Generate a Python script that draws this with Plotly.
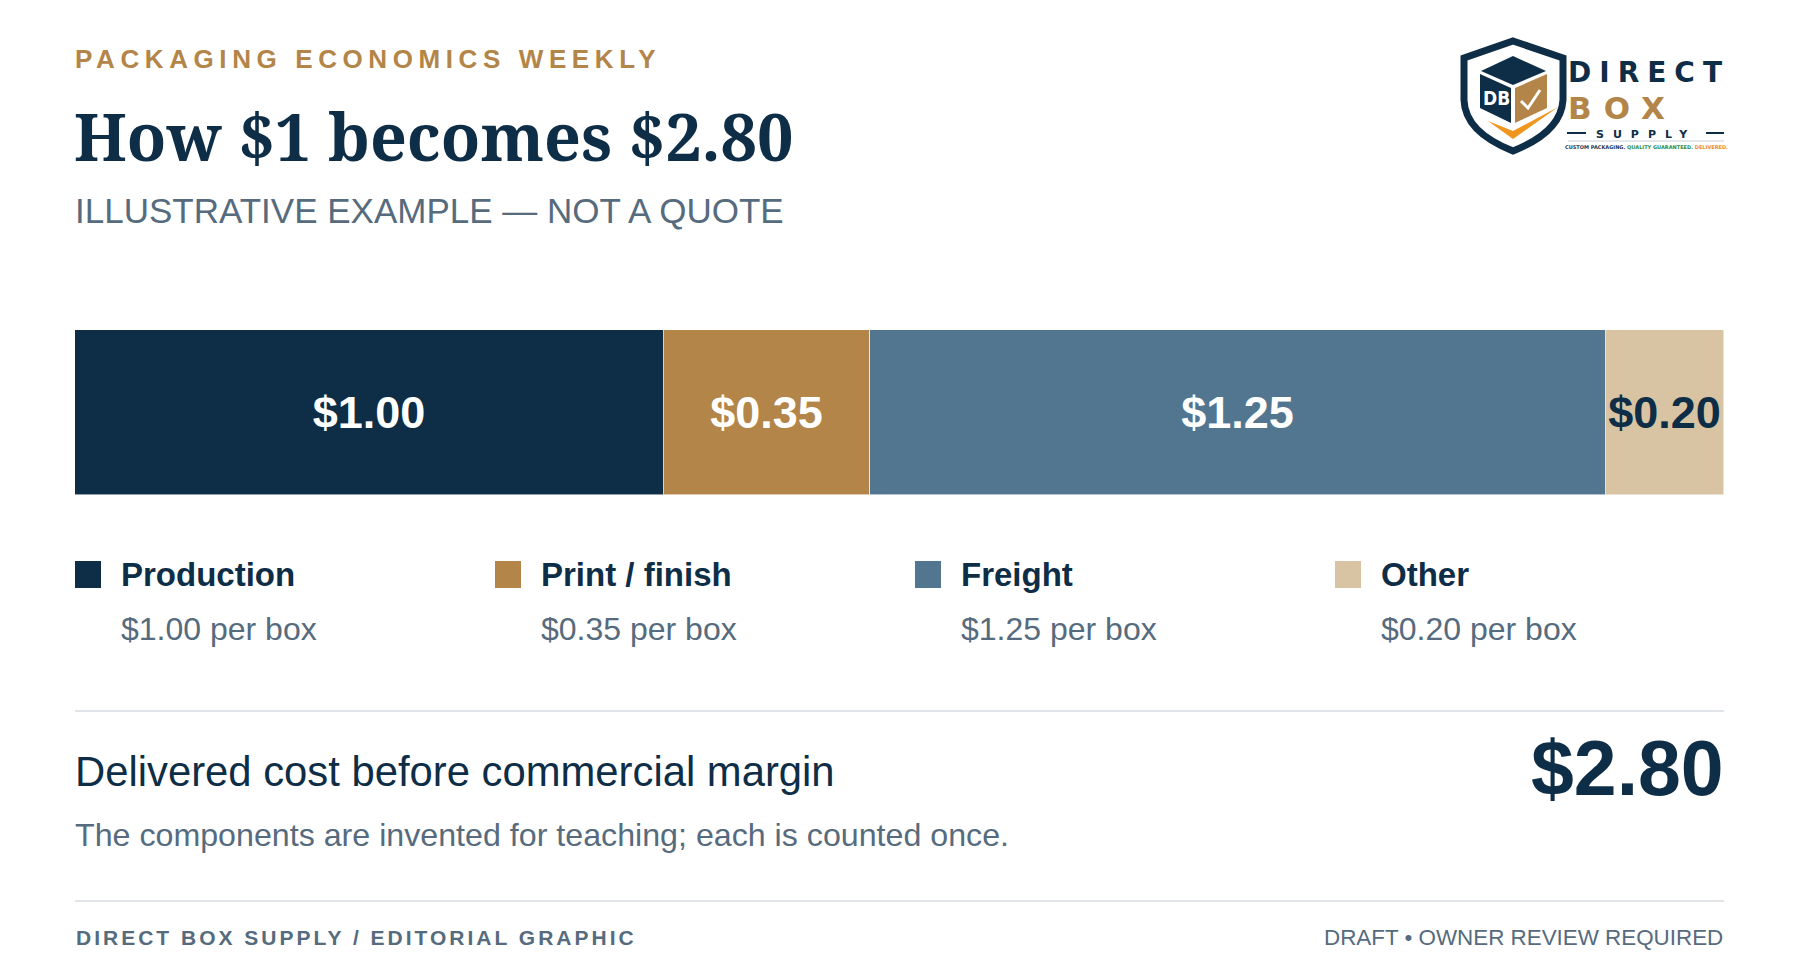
import plotly.graph_objects as go

# ---------------- data ----------------
categories = ["Production", "Print / finish", "Freight", "Other"]
values = [1.00, 0.35, 1.25, 0.20]
colors = ["#0e2d46", "#b38548", "#527590", "#d8c4a3"]
label_colors = ["#ffffff", "#ffffff", "#ffffff", "#0e2d46"]

kicker = "PACKAGING ECONOMICS WEEKLY"
title = "How $1 becomes $2.80"
subtitle = "ILLUSTRATIVE EXAMPLE \u2014 NOT A QUOTE"
summary_label = "Delivered cost before commercial margin"
note = "The components are invented for teaching; each is counted once."
footer_left = "DIRECT BOX SUPPLY / EDITORIAL GRAPHIC"
footer_right = "DRAFT \u2022 OWNER REVIEW REQUIRED"

# ---------------- layout constants ----------------
W, H = 1800, 975
L, R = 75, 1724
BAR_TOP, BAR_BOT = 330, 495
NAVY = "#0e2d46"
TAN = "#b38548"
GREY = "#566b7d"
RULE = "#e1e5ea"
SANS = "Liberation Sans, Arial, sans-serif"
SERIF = "Noto Serif, DejaVu Serif Condensed, DejaVu Serif, serif"
LOGO = "DejaVu Sans, Liberation Sans, sans-serif"

total = sum(values)

fig = go.Figure()

for cat, v, c, lc in zip(categories, values, colors, label_colors):
    fig.add_trace(go.Bar(
        y=["cost"], x=[v], name=cat, orientation="h",
        marker=dict(color=c, line=dict(color="rgba(255,255,255,0.55)", width=1)),
        text=[f"${v:.2f}"], textposition="inside", insidetextanchor="middle",
        textangle=0, constraintext="none",
        textfont=dict(family=SANS, size=45, color=lc, weight="bold"),
        hovertemplate=f"{cat}: $%{{x:.2f}}<extra></extra>",
        showlegend=False,
    ))

# invisible trace to hold the pixel-space overlay axes
fig.add_trace(go.Scatter(x=[0], y=[0], xaxis="x2", yaxis="y2", mode="markers",
                         marker=dict(opacity=0), hoverinfo="skip", showlegend=False))

annotations = []
shapes = []


def txt(x, y, s, size, color, xanchor="left", family=SANS, weight="normal", yanchor="middle"):
    annotations.append(dict(
        x=x, y=y, xref="x2", yref="y2", text=s, showarrow=False,
        xanchor=xanchor, yanchor=yanchor,
        font=dict(family=family, size=size, color=color, weight=weight),
    ))


# header
txt(L - 2, 59, f'<span style="letter-spacing:5.6px">{kicker}</span>', 26, TAN, weight="bold")
txt(L - 3, 136, title, 64.5, NAVY, family=SERIF, weight="bold")
txt(L - 2, 210, subtitle, 35, GREY)

# legend built from the category lists
col_w = 420
for i, (cat, v, c) in enumerate(zip(categories, values, colors)):
    x0 = L + i * col_w
    shapes.append(dict(type="rect", xref="x2", yref="y2", x0=x0, x1=x0 + 26, y0=561, y1=588,
                       fillcolor=c, line=dict(width=0)))
    txt(x0 + 44, 574, cat, 33, NAVY, weight="bold")
    txt(x0 + 44, 629, f"${v:.2f} per box", 32, GREY)

# rules
for yy in (711, 901):
    shapes.append(dict(type="line", xref="x2", yref="y2", x0=L, x1=R, y0=yy, y1=yy,
                       line=dict(color=RULE, width=2)))

# summary
txt(L - 2, 771, summary_label, 41.8, NAVY)
txt(R + 2, 768, f"${total:.2f}", 77, NAVY, xanchor="right", weight="bold")
txt(L - 2, 835, note, 32.2, GREY)

# footer
txt(L - 1, 937, f'<span style="letter-spacing:3px">{footer_left}</span>', 21, GREY, weight="bold")
txt(R + 1, 937, footer_right, 22.4, GREY, xanchor="right")

# ---------------- logo (drawn) ----------------
shapes += [
    # shield
    dict(type="path", xref="x2", yref="y2",
         path="M1513,41 L1563,58 L1563,100 Q1561,132 1513,151 Q1465,132 1464,100 L1464,58 Z",
         fillcolor="white", line=dict(color=NAVY, width=7)),
    # cube top
    dict(type="path", xref="x2", yref="y2",
         path="M1513,56 L1546,71 L1513,85 L1481,71 Z", fillcolor=NAVY, line=dict(width=0)),
    # cube left face
    dict(type="path", xref="x2", yref="y2",
         path="M1480,74 L1511,88 L1511,123 L1480,108 Z", fillcolor=NAVY, line=dict(width=0)),
    # cube right face
    dict(type="path", xref="x2", yref="y2",
         path="M1515,88 L1547,74 L1547,108 L1515,123 Z", fillcolor=TAN, line=dict(width=0)),
    # check on the right face
    dict(type="path", xref="x2", yref="y2",
         path="M1521,101 L1528,108 L1540,90", line=dict(color="white", width=3)),
    # orange swoosh
    dict(type="path", xref="x2", yref="y2",
         path="M1488,121 L1513,139 L1558,107 L1513,131 Z", fillcolor="#f0961e", line=dict(width=0)),
    # logo rules
    dict(type="line", xref="x2", yref="y2", x0=1567, x1=1586, y0=133, y1=133, line=dict(color=NAVY, width=2)),
    dict(type="line", xref="x2", yref="y2", x0=1706, x1=1724, y0=133, y1=133, line=dict(color=NAVY, width=2)),
    dict(type="line", xref="x2", yref="y2", x0=1568, x1=1724, y0=141, y1=141, line=dict(color="#c8ced6", width=1)),
]
txt(1496, 98, "DB", 19, "white", xanchor="center", family="DejaVu Sans Condensed, DejaVu Sans", weight="bold")
txt(1566, 54, '<span style="letter-spacing:8px">DIRECT</span>', 28, NAVY, family=LOGO, weight="bold", yanchor="top")
txt(1566, 88, '<span style="letter-spacing:12px">BOX</span>', 31, TAN, family=LOGO, weight="bold", yanchor="top")
txt(1646, 126, '<span style="letter-spacing:9px">SUPPLY</span>', 11, NAVY, xanchor="center", family=LOGO,
    weight="bold", yanchor="top")
txt(1646, 147,
    '<span style="color:#1f3550">CUSTOM PACKAGING.</span> '
    '<span style="color:#2e8b3e">QUALITY GUARANTEED.</span> '
    '<span style="color:#ef8d1c">DELIVERED.</span>',
    5, NAVY, xanchor="center", family=LOGO, weight="bold")

fig.update_layout(
    width=W, height=H,
    margin=dict(l=0, r=0, t=0, b=0),
    paper_bgcolor="white", plot_bgcolor="rgba(0,0,0,0)",
    barmode="stack", bargap=0,
    xaxis=dict(domain=[L / W, R / W], range=[0, total], visible=False, fixedrange=True),
    yaxis=dict(domain=[1 - BAR_BOT / H, 1 - BAR_TOP / H], range=[-0.5, 0.5], visible=False, fixedrange=True),
    xaxis2=dict(domain=[0, 1], range=[0, W], visible=False, fixedrange=True, anchor="y2"),
    yaxis2=dict(domain=[0, 1], range=[H, 0], visible=False, fixedrange=True, anchor="x2"),
    annotations=annotations,
    shapes=shapes,
    showlegend=False,
)

fig.write_html(
    "out.html",
    config={"displayModeBar": False},
    post_script="document.body.style.margin='0';document.body.style.overflow='hidden';",
)
